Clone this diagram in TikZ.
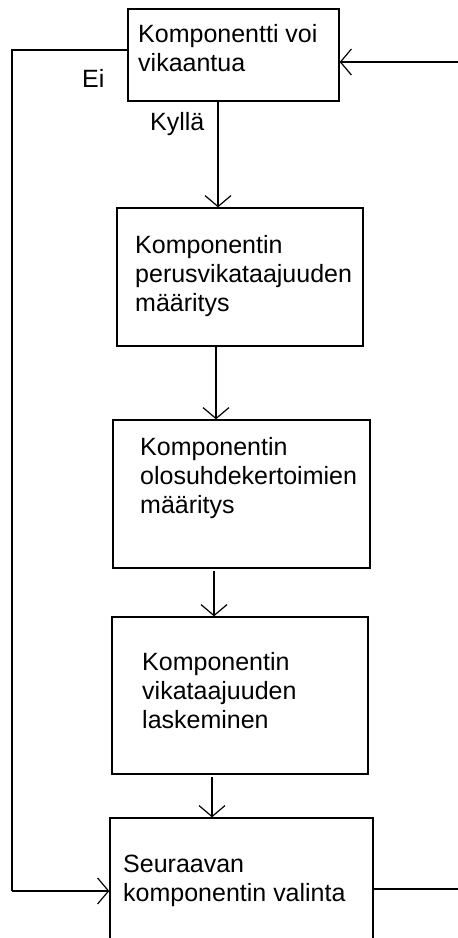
\documentclass[tikz,border=0pt]{standalone}
\usepackage{fontspec}
\setmainfont{Liberation Sans}
\usetikzlibrary{arrows.meta}
\begin{document}
\begin{tikzpicture}[x=1pt,y=-1pt,
  box/.style={draw,line width=1.3pt,inner sep=0pt,rectangle},
  txt/.style={anchor=base west,inner sep=0pt,align=left,font=\fontsize{25}{29}\selectfont},
  conn/.style={line width=1.3pt},
  arr/.style={conn,-{Straight Barb[length=11pt,width=26pt,line width=1.2pt]}}]
\useasboundingbox (0,0) rectangle (458,938);
\clip (0,0) rectangle (458,938);
\fill[white] (0,0) rectangle (458,938);
% boxes
\node[box,minimum width=211pt,minimum height=92pt] (b1) at (233.5,55) {};
\node[box,minimum width=246pt,minimum height=138pt] (b2) at (240,277) {};
\node[box,minimum width=257pt,minimum height=148pt] (b3) at (241.5,494) {};
\node[box,minimum width=256pt,minimum height=157pt] (b4) at (240,695.5) {};
\node[box,minimum width=263pt,minimum height=160pt] (b5) at (241.5,898) {};
% texts (anchor = baseline of the last line)
\node[txt] (t1) at (138,71) {Komponentti voi\\vikaantua};
\node[txt] (t2) at (135,311) {Komponentin\\perusvikataajuuden\\määritys};
\node[txt] (t3) at (140,513) {Komponentin\\olosuhdekertoimien\\määritys};
\node[txt] (t4) at (142,728) {Komponentin\\vikataajuuden\\laskeminen};
\node[txt] (t5) at (123,901) {Seuraavan\\komponentin valinta};
\node[txt] (ei) at (82,87) {Ei};
\node[txt] (kylla) at (150,130) {Kyllä};
% connectors
\coordinate (lt) at (12,50);
\coordinate (lb) at (12,891);
\coordinate (rin) at (458,62);
\coordinate (rout) at (458,889);
\draw[arr] (218,0 |- b1.south) -- (218,0 |- b2.north);
\draw[arr] (216,0 |- b2.south) -- (216,0 |- b3.north);
\draw[arr] (214,571) -- (214,0 |- b4.north);
\draw[arr] (212,777) -- (212,0 |- b5.north);
\draw[conn] (b1.west |- lt) -- (lt) -- (lb);
\draw[arr] (lb) -- (b5.west |- lb);
\draw[arr] (rin) -- (b1.east |- rin);
\draw[conn] (b5.east |- rout) -- (rout);
\end{tikzpicture}
\end{document}
